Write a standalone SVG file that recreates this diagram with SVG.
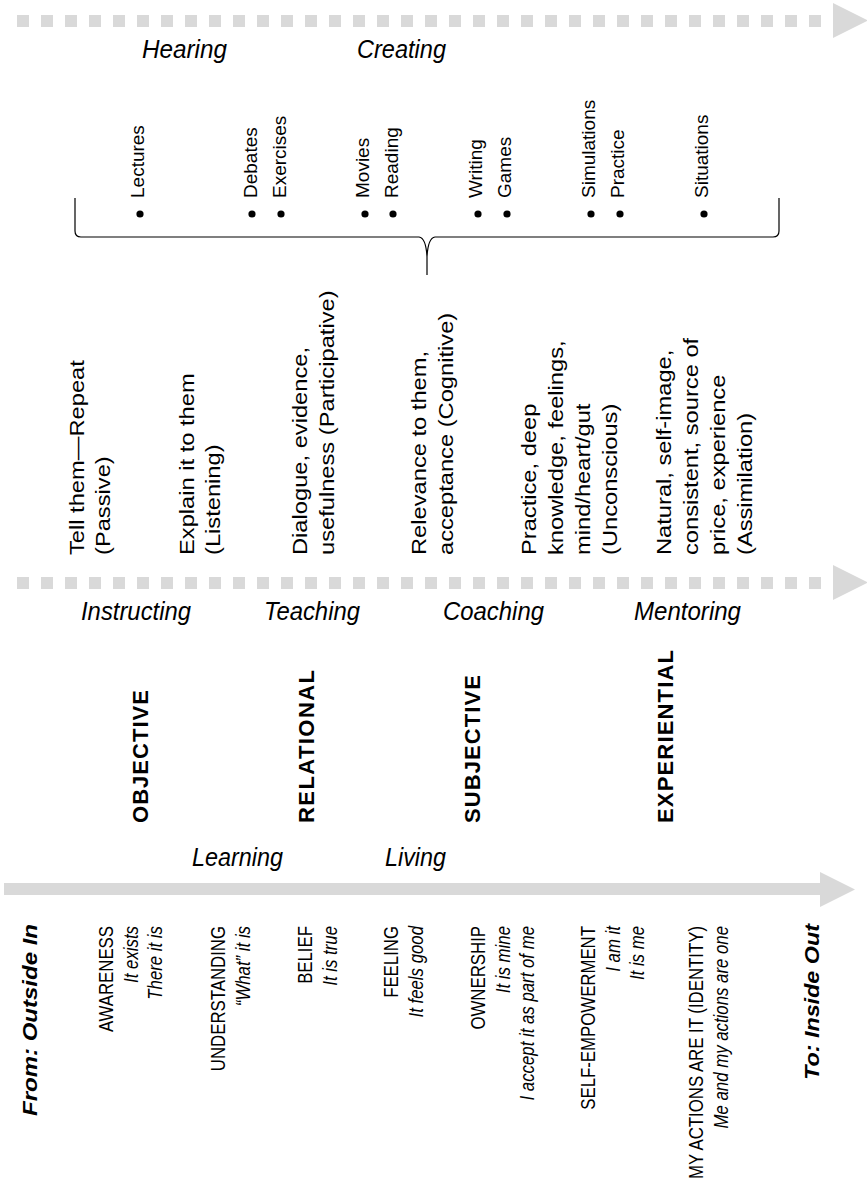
<svg xmlns="http://www.w3.org/2000/svg" width="867" height="1194" viewBox="0 0 867 1194">
  <style>
    text { font-family: "Liberation Sans", Arial, Helvetica, sans-serif; fill: #000; }
    .lbl { font-size: 26px; font-style: italic; }
    .item { font-size: 19px; }
    .desc { font-size: 19.5px; }
    .kind { font-size: 22px; font-weight: bold; }
    .stage { font-size: 21px; text-anchor: end; }
    .it { font-style: italic; }
    .pole { font-size: 21px; font-weight: bold; font-style: italic; text-anchor: end; }
    .band { stroke: #d9d9d9; stroke-width: 12; stroke-dasharray: 12 12; fill: none; }
    .head { fill: #d9d9d9; }
    .brace { fill: none; stroke: #000; stroke-width: 1.2; }
  </style>

  <!-- progression arrows -->
  <g id="connectors">
    <line class="band" x1="17" y1="21" x2="833" y2="21"/>
    <polygon class="head" points="833,3 868,20.5 833,38"/>
    <line class="band" x1="17" y1="583" x2="833" y2="583"/>
    <polygon class="head" points="833,565 868,582.5 833,600"/>
    <rect class="head" x="4" y="883" width="816" height="12"/>
    <polygon class="head" points="820,872 855,889.5 820,907"/>
  </g>

  <!-- upper scale labels -->
  <g id="hearing-creating">
    <text class="lbl" x="142" y="58" textLength="85" lengthAdjust="spacingAndGlyphs">Hearing</text>
    <text class="lbl" x="357" y="58" textLength="89" lengthAdjust="spacingAndGlyphs">Creating</text>
  </g>

  <!-- methods list with brace -->
  <g id="methods">
    <g class="item">
      <text class="item" transform="translate(144,198) rotate(-90)">Lectures</text>
      <text class="item" transform="translate(257,198) rotate(-90)">Debates</text>
      <text class="item" transform="translate(286,198) rotate(-90)">Exercises</text>
      <text class="item" transform="translate(369,198) rotate(-90)">Movies</text>
      <text class="item" transform="translate(398,198) rotate(-90)">Reading</text>
      <text class="item" transform="translate(482,198) rotate(-90)">Writing</text>
      <text class="item" transform="translate(511,198) rotate(-90)">Games</text>
      <text class="item" transform="translate(595,198) rotate(-90)">Simulations</text>
      <text class="item" transform="translate(624,198) rotate(-90)">Practice</text>
      <text class="item" transform="translate(708,198) rotate(-90)">Situations</text>
    </g>
    <g fill="#000">
      <circle cx="140" cy="214" r="3.6"/>
      <circle cx="252" cy="214" r="3.6"/>
      <circle cx="281" cy="214" r="3.6"/>
      <circle cx="365" cy="214" r="3.6"/>
      <circle cx="393" cy="214" r="3.6"/>
      <circle cx="478" cy="214" r="3.6"/>
      <circle cx="507" cy="214" r="3.6"/>
      <circle cx="591" cy="214" r="3.6"/>
      <circle cx="620" cy="214" r="3.6"/>
      <circle cx="704" cy="214" r="3.6"/>
    </g>
    <path class="brace" d="M75,198 V231 Q75,237 81,237 H419 Q426,238 427,257 Q428,238 435,237 H773 Q779,237 779,231 V198 M427,257 V275"/>
  </g>

  <!-- approach descriptions -->
  <g id="descriptions">
    <text class="desc" transform="translate(84,555) rotate(-90) scale(1.215,1)">Tell them—Repeat</text>
    <text class="desc" transform="translate(110,555) rotate(-90) scale(1.215,1)">(Passive)</text>
    <text class="desc" transform="translate(194,555) rotate(-90) scale(1.215,1)">Explain it to them</text>
    <text class="desc" transform="translate(220,555) rotate(-90) scale(1.215,1)">(Listening)</text>
    <text class="desc" transform="translate(307,555) rotate(-90) scale(1.215,1)">Dialogue, evidence,</text>
    <text class="desc" transform="translate(334,555) rotate(-90) scale(1.215,1)">usefulness (Participative)</text>
    <text class="desc" transform="translate(426,555) rotate(-90) scale(1.215,1)">Relevance to them,</text>
    <text class="desc" transform="translate(453,555) rotate(-90) scale(1.215,1)">acceptance (Cognitive)</text>
    <text class="desc" transform="translate(536,555) rotate(-90) scale(1.215,1)">Practice, deep</text>
    <text class="desc" transform="translate(563,555) rotate(-90) scale(1.215,1)">knowledge, feelings,</text>
    <text class="desc" transform="translate(590,555) rotate(-90) scale(1.215,1)">mind/heart/gut</text>
    <text class="desc" transform="translate(617,555) rotate(-90) scale(1.215,1)">(Unconscious)</text>
    <text class="desc" transform="translate(671,555) rotate(-90) scale(1.215,1)">Natural, self-image,</text>
    <text class="desc" transform="translate(698,555) rotate(-90) scale(1.215,1)">consistent, source of</text>
    <text class="desc" transform="translate(725,555) rotate(-90) scale(1.215,1)">price, experience</text>
    <text class="desc" transform="translate(752,555) rotate(-90) scale(1.215,1)">(Assimilation)</text>
  </g>

  <!-- roles -->
  <g id="roles">
    <text class="lbl" x="81" y="620" textLength="110" lengthAdjust="spacingAndGlyphs">Instructing</text>
    <text class="lbl" x="264" y="620" textLength="96" lengthAdjust="spacingAndGlyphs">Teaching</text>
    <text class="lbl" x="443" y="620" textLength="101" lengthAdjust="spacingAndGlyphs">Coaching</text>
    <text class="lbl" x="634" y="620" textLength="107" lengthAdjust="spacingAndGlyphs">Mentoring</text>
  </g>

  <!-- modes -->
  <g id="modes">
    <text class="kind" transform="translate(148,823) rotate(-90)" textLength="133" lengthAdjust="spacing">OBJECTIVE</text>
    <text class="kind" transform="translate(314,823) rotate(-90)" textLength="153" lengthAdjust="spacing">RELATIONAL</text>
    <text class="kind" transform="translate(480,823) rotate(-90)" textLength="148" lengthAdjust="spacing">SUBJECTIVE</text>
    <text class="kind" transform="translate(673,823) rotate(-90)" textLength="173" lengthAdjust="spacing">EXPERIENTIAL</text>
  </g>

  <g id="learning-living">
    <text class="lbl" x="192" y="866" textLength="91" lengthAdjust="spacingAndGlyphs">Learning</text>
    <text class="lbl" x="385" y="866" textLength="61" lengthAdjust="spacingAndGlyphs">Living</text>
  </g>

  <!-- stages from outside in to inside out -->
  <g id="from">
    <text class="pole" transform="translate(37,924) rotate(-90)" textLength="192" lengthAdjust="spacingAndGlyphs">From: Outside In</text>
  </g>
  <g id="awareness">
    <text class="stage" transform="translate(113,926) rotate(-90) scale(0.8,1)">AWARENESS</text>
    <text class="stage it" transform="translate(137.5,926) rotate(-90) scale(0.8,1)">It exists</text>
    <text class="stage it" transform="translate(162,926) rotate(-90) scale(0.8,1)">There it is</text>
  </g>
  <g id="understanding">
    <text class="stage" transform="translate(225,926) rotate(-90) scale(0.8,1)">UNDERSTANDING</text>
    <text class="stage it" transform="translate(249.5,926) rotate(-90) scale(0.8,1)">“What” it is</text>
  </g>
  <g id="belief">
    <text class="stage" transform="translate(312,926) rotate(-90) scale(0.8,1)">BELIEF</text>
    <text class="stage it" transform="translate(336.5,926) rotate(-90) scale(0.8,1)">It is true</text>
  </g>
  <g id="feeling">
    <text class="stage" transform="translate(398,926) rotate(-90) scale(0.8,1)">FEELING</text>
    <text class="stage it" transform="translate(422.5,926) rotate(-90) scale(0.8,1)">It feels good</text>
  </g>
  <g id="ownership">
    <text class="stage" transform="translate(485,926) rotate(-90) scale(0.8,1)">OWNERSHIP</text>
    <text class="stage it" transform="translate(509.5,926) rotate(-90) scale(0.8,1)">It is mine</text>
    <text class="stage it" transform="translate(534,926) rotate(-90) scale(0.8,1)">I accept it as part of me</text>
  </g>
  <g id="self-empowerment">
    <text class="stage" transform="translate(595,926) rotate(-90) scale(0.8,1)">SELF-EMPOWERMENT</text>
    <text class="stage it" transform="translate(619.5,926) rotate(-90) scale(0.8,1)">I am it</text>
    <text class="stage it" transform="translate(644,926) rotate(-90) scale(0.8,1)">It is me</text>
  </g>
  <g id="identity">
    <text class="stage" transform="translate(703,926) rotate(-90) scale(0.8,1)">MY ACTIONS ARE IT (IDENTITY)</text>
    <text class="stage it" transform="translate(727.5,926) rotate(-90) scale(0.8,1)">Me and my actions are one</text>
  </g>
  <g id="to">
    <text class="pole" transform="translate(819,924) rotate(-90)" textLength="156" lengthAdjust="spacingAndGlyphs">To: Inside Out</text>
  </g>
</svg>
